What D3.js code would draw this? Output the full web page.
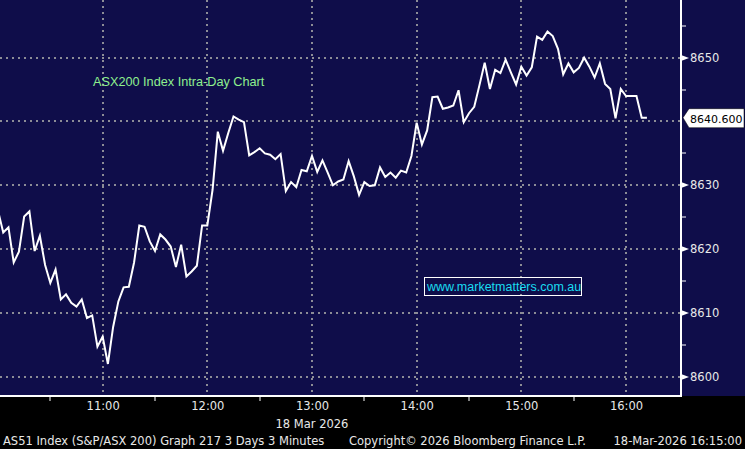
<!DOCTYPE html>
<html><head><meta charset="utf-8">
<script src="https://cdn.jsdelivr.net/npm/d3@7"></script>
<style>
html,body{margin:0;padding:0;background:#000;}
svg{display:block;}
</style></head>
<body><svg id="c" width="745" height="449" font-family="DejaVu Sans, Verdana, sans-serif"></svg>
<script>
// ---- data ----
const sessionDate = "2026-03-18";
const startTime = "10:00";
const stepMinutes = 3;
const values = [
8626.0,8622.6,8623.4,8617.9,8619.6,8625.1,8625.9,8619.7,8622.1,8617.5,
8614.7,8616.8,8612.1,8612.9,8611.6,8611.0,8612.1,8609.2,8609.6,8604.7,
8606.3,8602.0,8607.8,8611.8,8614.0,8614.1,8617.9,8623.7,8623.5,8621.2,
8619.7,8622.3,8621.5,8620.4,8617.2,8620.7,8615.7,8616.5,8617.4,8623.7,
8623.7,8629.3,8638.4,8635.4,8638.2,8640.8,8640.3,8639.9,8634.7,8635.2,
8635.8,8635.0,8634.8,8634.1,8634.9,8629.1,8630.5,8629.7,8632.4,8632.2,
8634.6,8632.1,8633.9,8632.0,8630.0,8630.6,8630.9,8633.8,8631.4,8628.5,
8630.5,8629.9,8630.0,8632.8,8631.3,8632.0,8631.2,8632.3,8632.0,8634.6,
8639.8,8636.4,8638.6,8643.8,8643.9,8642.0,8642.2,8642.5,8644.9,8639.9,
8641.3,8642.3,8645.7,8649.2,8645.1,8648.1,8647.6,8649.7,8647.7,8645.8,
8648.6,8647.2,8648.5,8653.3,8652.8,8654.1,8653.4,8651.4,8647.4,8649.1,
8647.7,8648.4,8650.0,8648.6,8646.9,8649.1,8645.9,8645.1,8640.5,8645.1,
8644.0,8644.0,8644.0,8640.6,8640.6
];
const lastLabel = "8640.600";
const yTicks = [8600, 8610, 8620, 8630, 8640, 8650];
const yLabelTicks = [8600, 8610, 8620, 8630, 8650];
const yMinorTicks = [8605, 8615, 8625, 8635, 8645, 8655];
const xTickLabels = ["11:00","12:00","13:00","14:00","15:00","16:00"];
const xMinorTickLabels = ["10:30","11:30","12:30","13:30","14:30","15:30"];
const title = "ASX200 Index Intra-Day Chart";
const watermark = "www.marketmatters.com.au";
const dateLabel = "18 Mar 2026";
const footerLeft = "AS51 Index (S&P/ASX 200) Graph 217 3 Days 3 Minutes";
const footerMid = "Copyright\u00A9 2026 Bloomberg Finance L.P.";
const footerRight = "18-Mar-2026 16:15:00";

// ---- setup ----
const W = 745, H = 449;
const plotRight = 681, plotBottom = 396;
const navy = "#0f0d4a";
const sans = "Liberation Sans, Arial, sans-serif";
const parse = d3.timeParse("%Y-%m-%d %H:%M");
const t0 = parse(sessionDate + " " + startTime);
const pts = values.map((v, i) => ({t: d3.timeMinute.offset(t0, i * stepMinutes), v}));

const x = d3.scaleTime()
  .domain([parse(sessionDate + " 10:00"), parse(sessionDate + " 16:00")])
  .range([-2, 626]);
const y = d3.scaleLinear().domain([8600, 8650]).range([376.7, 57.7]);

const svg = d3.select("#c");
svg.append("rect").attr("width", W).attr("height", H).attr("fill", "#000");
svg.append("rect").attr("width", W).attr("height", plotBottom).attr("fill", navy);

svg.append("defs").append("clipPath").attr("id", "clip")
  .append("rect").attr("x", 0).attr("y", 0).attr("width", plotRight).attr("height", plotBottom);

const hourDates = xTickLabels.map(s => parse(sessionDate + " " + s));
const halfDates = xMinorTickLabels.map(s => parse(sessionDate + " " + s));

// grid
const grid = svg.append("g").attr("stroke", "#8c8c96").attr("stroke-width", 2)
  .attr("stroke-dasharray", "2,4");
grid.selectAll("line.h").data(yTicks).join("line")
  .attr("x1", 0).attr("x2", plotRight)
  .attr("y1", d => Math.round(y(d))).attr("y2", d => Math.round(y(d)));
grid.selectAll("line.v").data(hourDates).join("line")
  .attr("x1", d => Math.round(x(d))).attr("x2", d => Math.round(x(d)))
  .attr("y1", 0).attr("y2", plotBottom);

// line
const line = d3.line().x(d => x(d.t)).y(d => y(d.v));
svg.append("path").datum(pts).attr("clip-path", "url(#clip)")
  .attr("d", line).attr("fill", "none").attr("stroke", "#fff")
  .attr("stroke-width", 2).attr("stroke-linejoin", "miter");

// bottom axis
const xAxis = d3.axisBottom(x).tickValues(hourDates).tickFormat(d3.timeFormat("%H:%M"))
  .tickSize(0).tickPadding(6);
const gx = svg.append("g").attr("transform", `translate(0,${plotBottom})`).call(xAxis);
gx.attr("font-family", null).attr("font-size", null);
gx.select(".domain").remove();
gx.selectAll("text").attr("fill", "#e8e8e8").attr("font-size", 11.5);
svg.append("line").attr("x1", 0).attr("x2", plotRight).attr("y1", plotBottom).attr("y2", plotBottom)
  .attr("stroke", "#fff").attr("stroke-width", 2);
svg.selectAll("line.xm").data(halfDates).join("line").attr("class", "xm")
  .attr("x1", d => Math.round(x(d))).attr("x2", d => Math.round(x(d)))
  .attr("y1", plotBottom).attr("y2", plotBottom + 5).attr("stroke", "#fff").attr("stroke-width", 1);

// right axis
svg.append("line").attr("x1", plotRight).attr("x2", plotRight).attr("y1", 0).attr("y2", plotBottom + 1)
  .attr("stroke", "#fff").attr("stroke-width", 2);
const yAxis = d3.axisRight(y).tickValues(yLabelTicks).tickFormat(d3.format("d")).tickSize(0).tickPadding(9);
const gy = svg.append("g").attr("transform", `translate(${plotRight},0)`).call(yAxis);
gy.attr("font-family", null).attr("font-size", null);
gy.select(".domain").remove();
gy.selectAll("text").attr("fill", "#e8e8e8").attr("font-size", 11.5);
svg.selectAll("path.arr").data(yLabelTicks).join("path").attr("class", "arr")
  .attr("d", d => { const yy = Math.round(y(d)); return `M${plotRight},${yy-3}L${plotRight+8},${yy}L${plotRight},${yy+3}Z`; })
  .attr("fill", "#fff");
svg.selectAll("line.ym").data(yMinorTicks).join("line").attr("class", "ym")
  .attr("x1", plotRight).attr("x2", plotRight + 5)
  .attr("y1", d => Math.round(y(d))).attr("y2", d => Math.round(y(d)))
  .attr("stroke", "#fff").attr("stroke-width", 1);

// last value label
const lastV = values[values.length - 1];
const ly = y(lastV);
svg.append("path")
  .attr("d", `M${plotRight+2},${ly}L${plotRight+8},${ly-9}L${W-1},${ly-9}L${W-1},${ly+10}L${plotRight+8},${ly+10}Z`)
  .attr("fill", "#fff").attr("stroke", "#000").attr("stroke-width", 0.5);
svg.append("text").attr("x", plotRight + 9).attr("y", ly + 5).attr("font-size", 11)
  .attr("fill", "#000").text(lastLabel);

// title
svg.append("text").attr("x", 93).attr("y", 86).attr("font-size", 12.7)
  .attr("font-family", sans).attr("fill", "#8ef08e").text(title);

// watermark
svg.append("rect").attr("x", 424.5).attr("y", 277.5).attr("width", 157).attr("height", 18)
  .attr("fill", "none").attr("stroke", "#fff").attr("stroke-width", 1);
svg.append("text").attr("x", 427).attr("y", 291).attr("font-size", 12.5)
  .attr("font-family", sans).attr("fill", "#19dcf0").text(watermark);

// date & footer
svg.append("text").attr("x", 312).attr("y", 428).attr("text-anchor", "middle").attr("font-size", 11.5)
  .attr("fill", "#e8e8e8").text(dateLabel);
svg.append("text").attr("x", 3).attr("y", 445).attr("font-size", 11.5).attr("fill", "#e8e8e8").text(footerLeft);
svg.append("text").attr("x", 349).attr("y", 445).attr("font-size", 11.5).attr("fill", "#e8e8e8").text(footerMid);
svg.append("text").attr("x", 742).attr("y", 445).attr("text-anchor", "end").attr("font-size", 11.5).attr("fill", "#e8e8e8").text(footerRight);
</script></body></html>
